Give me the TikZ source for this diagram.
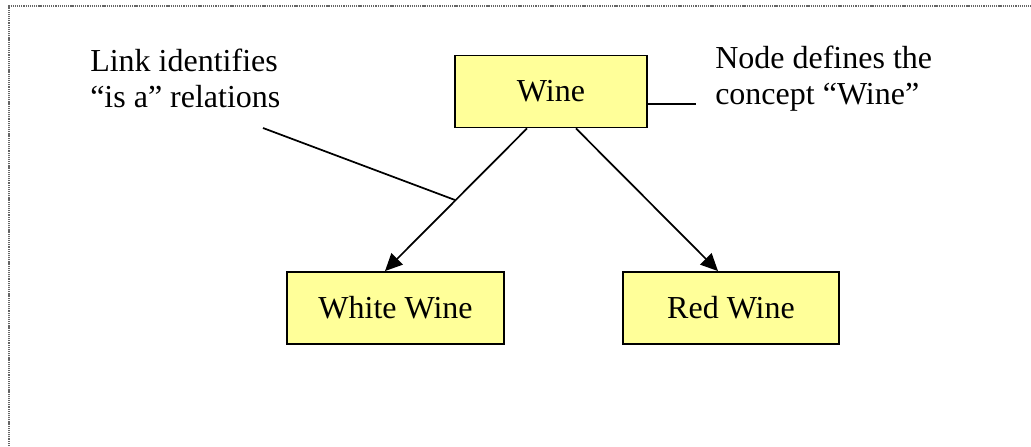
\documentclass[tikz,border=0pt]{standalone}
\usepackage{fontspec}
\setmainfont{Liberation Serif}
\usetikzlibrary{arrows.meta,calc}
\definecolor{boxfill}{HTML}{FFFF99}
\definecolor{framegray}{HTML}{666666}
\begin{document}
\begin{tikzpicture}[x=0.75pt,y=-0.75pt,
  concept/.style={draw=black,line width=1.4pt,fill=boxfill,
    minimum width=#1*0.75pt,minimum height=72*0.75pt,inner sep=0pt,
    font=\fontsize{24}{27}\selectfont},
  isa/.style={line width=1.3pt,-{Triangle[length=13pt,width=12pt]}},
  callout/.style={line width=1.3pt},
  note/.style={anchor=north west,inner sep=0pt,align=left,
    font=\fontsize{24}{27}\selectfont}]
  \useasboundingbox (0,0) rectangle (1031,446);
  % partial dotted frame along the top and left
  \draw[framegray,line width=1.6pt,dash pattern=on 0.9pt off 0.7pt]
    (9,446) -- (9,6) -- (1031,6);

  % concept nodes
  \node[concept=192] (wine)  at (551,91.5) {Wine};
  \node[concept=217] (white) at (395.5,308) {White Wine};
  \node[concept=216] (red)   at (731,308)  {Red Wine};

  % "is a" links
  \draw[isa] ($(wine.south)+(-24,0)$) -- ($(white.north)+(-10.5,0)$);
  \draw[isa] ($(wine.south)+(25,0)$) -- ($(red.north)+(-13,0)$);

  % annotations
  \node[note] (linknote) at (90,49) {Link identifies\\“is a” relations};
  \node[note] (nodenote) at (715,46) {Node defines the\\concept “Wine”};

  \coordinate (linkstart) at (263,128);
  \coordinate (linkend) at (455,200);
  \draw[callout] (linkstart) -- (linkend);

  \coordinate (nodestart) at ($(wine.east)+(0,12.5)$);
  \coordinate (nodeend) at (696,104);
  \draw[callout] (nodestart) -- (nodeend);
\end{tikzpicture}
\end{document}
